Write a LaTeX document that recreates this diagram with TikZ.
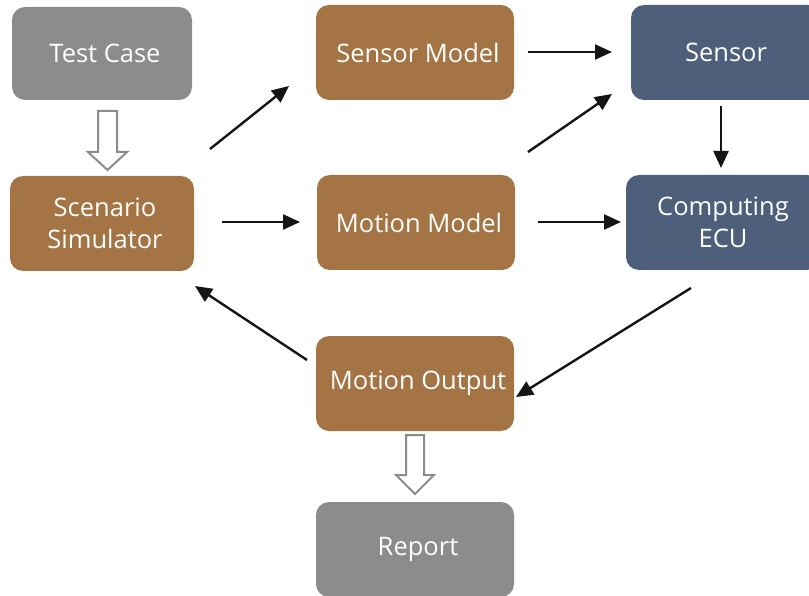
\documentclass[tikz,border=0pt]{standalone}
\usepackage{fontspec}
\setmainfont{Open Sans}
\usetikzlibrary{arrows.meta}
\definecolor{boxgray}{HTML}{8C8C8C}
\definecolor{boxbrown}{HTML}{A57445}
\definecolor{boxslate}{HTML}{4D5F7A}
\definecolor{arrowblack}{HTML}{151515}
\newcommand{\rsh}{\hspace*{6pt}}
\begin{document}
\begin{tikzpicture}[x=1pt,y=-1pt,
  box/.style={rounded corners=13pt, text=white, font=\fontsize{25.5}{32}\selectfont,
    align=center, inner sep=0pt, minimum width=198pt, minimum height=95pt},
  conn/.style={line width=2.4pt, draw=arrowblack, -{Triangle[length=17pt,width=15pt]}},
  hollow/.style={draw=boxgray, line width=2pt, fill=white, line join=miter}]
\useasboundingbox (0,0) rectangle (809,596);
\clip (0,0) rectangle (809,596);
% boxes
\node[box, fill=boxgray, minimum width=180pt, minimum height=93pt] (tc) at (102,53.5) {\rsh Test Case};
\node[box, fill=boxbrown, minimum width=184pt] (ss) at (102,223.5) {\rsh Scenario\\\rsh Simulator};
\node[box, fill=boxbrown] (sm) at (415,52.5) {\rsh Sensor Model};
\node[box, fill=boxbrown] (mm) at (416,222.5) {\rsh Motion Model};
\node[box, fill=boxslate, minimum width=190pt] (se) at (726,52.5) {Sensor};
\node[box, fill=boxslate, minimum width=194pt] (ecu) at (723,222.5) {Computing\\ECU};
\node[box, fill=boxbrown] (mo) at (415,383.5) {\rsh Motion Output};
\node[box, fill=boxgray] (rp) at (415,549.5) {\rsh Report};
% arrow end points
\coordinate (a1s) at (210,149); \coordinate (a1e) at (289,86);
\coordinate (a2s) at (528,52);  \coordinate (a2e) at (612,52);
\coordinate (a3s) at (528,152); \coordinate (a3e) at (612,94);
\coordinate (a4s) at (222,222); \coordinate (a4e) at (300,222);
\coordinate (a5s) at (538,222); \coordinate (a5e) at (621,222);
\coordinate (a6s) at (721,106); \coordinate (a6e) at (721,168);
\coordinate (a7s) at (691,288); \coordinate (a7e) at (516,397);
\coordinate (a8s) at (307,360); \coordinate (a8e) at (195,286);
% connectors
\draw[conn] (a1s) -- (a1e);
\draw[conn] (a2s) -- (a2e);
\draw[conn] (a3s) -- (a3e);
\draw[conn] (a4s) -- (a4e);
\draw[conn] (a5s) -- (a5e);
\draw[conn] (a6s) -- (a6e);
\draw[conn] (a7s) -- (a7e);
\draw[conn] (a8s) -- (a8e);
% hollow arrows
\draw[hollow] (98,111) -- (117,111) -- (117,152) -- (127,152) -- (107.5,170)
  -- (88,152) -- (98,152) -- cycle;
\draw[hollow] (406,435) -- (424,435) -- (424,475) -- (434,475) -- (415,494)
  -- (396,475) -- (406,475) -- cycle;
\end{tikzpicture}
\end{document}
